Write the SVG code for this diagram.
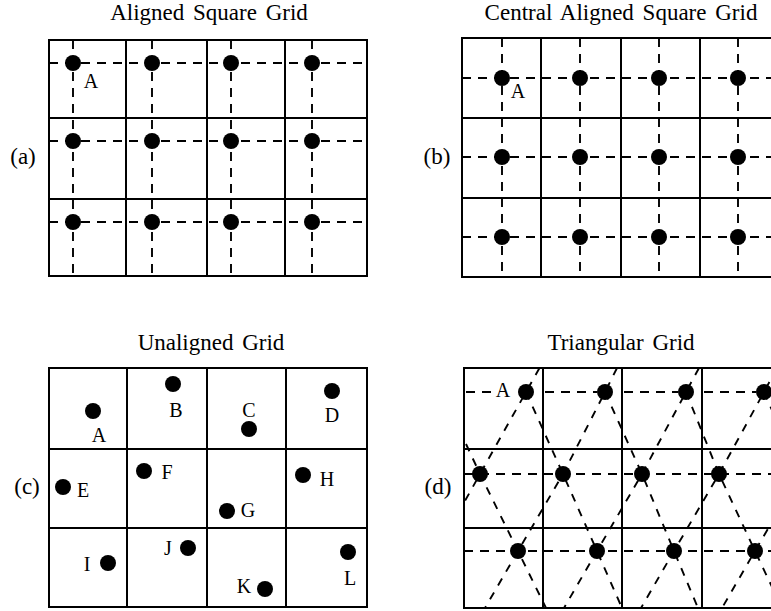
<svg xmlns="http://www.w3.org/2000/svg" width="771" height="611" viewBox="0 0 771 611">
<style>
.bg{fill:#fff}
.cell{fill:none;stroke:#000;stroke-width:2}
.dash{fill:none;stroke:#000;stroke-width:1.9;stroke-dasharray:9 7}
.diag{fill:none;stroke:#000;stroke-width:1.9;stroke-dasharray:8 8}
.dot{fill:#000}
text{font-family:"Liberation Serif","Times New Roman",serif;fill:#000}
.title{font-size:23px;text-anchor:middle;word-spacing:3px}
.plabel{font-size:23px;text-anchor:middle}
.lbl{font-size:20px;text-anchor:middle}
</style>
<defs>
<clipPath id="clipD"><rect x="464" y="368" width="330" height="240"/></clipPath>
</defs>
<rect class="bg" x="0" y="0" width="771" height="611"/>

<!-- Panel (a) -->
<g id="panel-a">
  <text class="title" x="209" y="20">Aligned Square Grid</text>
  <text class="plabel" x="23" y="164">(a)</text>
  <g id="grid-a">
    <rect class="cell" x="49" y="40" width="318" height="236"/>
    <path class="cell" d="M126 40V276M207 40V276M285 40V276M49 118H367M49 199H367"/>
  </g>
  <g id="connectors-a">
    <path class="dash" d="M73 40V276M152 40V276M231 40V276M312 40V276M49 63H367M49 141H367M49 222H367"/>
  </g>
  <g id="nodes-a">
    <g id="a-A"><circle class="dot" cx="73" cy="63" r="8"/><text class="lbl" x="91" y="88">A</text></g>
    <g id="a-n2"><circle class="dot" cx="152" cy="63" r="8"/></g>
    <g id="a-n3"><circle class="dot" cx="231" cy="63" r="8"/></g>
    <g id="a-n4"><circle class="dot" cx="312" cy="63" r="8"/></g>
    <g id="a-n5"><circle class="dot" cx="73" cy="141" r="8"/></g>
    <g id="a-n6"><circle class="dot" cx="152" cy="141" r="8"/></g>
    <g id="a-n7"><circle class="dot" cx="231" cy="141" r="8"/></g>
    <g id="a-n8"><circle class="dot" cx="312" cy="141" r="8"/></g>
    <g id="a-n9"><circle class="dot" cx="73" cy="222" r="8"/></g>
    <g id="a-n10"><circle class="dot" cx="152" cy="222" r="8"/></g>
    <g id="a-n11"><circle class="dot" cx="231" cy="222" r="8"/></g>
    <g id="a-n12"><circle class="dot" cx="312" cy="222" r="8"/></g>
  </g>
</g>

<!-- Panel (b) -->
<g id="panel-b">
  <text class="title" x="621" y="20">Central Aligned Square Grid</text>
  <text class="plabel" x="437" y="164">(b)</text>
  <g id="grid-b">
    <rect class="cell" x="462" y="38" width="330" height="239"/>
    <path class="cell" d="M541 38V277M621 38V277M700 38V277M462 118H792M462 198H792"/>
  </g>
  <g id="connectors-b">
    <path class="dash" d="M502 38V277M580 38V277M659 38V277M738 38V277M462 78H792M462 157H792M462 237H792"/>
  </g>
  <g id="nodes-b">
    <g id="b-A"><circle class="dot" cx="502" cy="78" r="8"/><text class="lbl" x="518" y="98">A</text></g>
    <g id="b-n2"><circle class="dot" cx="580" cy="78" r="8"/></g>
    <g id="b-n3"><circle class="dot" cx="659" cy="78" r="8"/></g>
    <g id="b-n4"><circle class="dot" cx="738" cy="78" r="8"/></g>
    <g id="b-n5"><circle class="dot" cx="502" cy="157" r="8"/></g>
    <g id="b-n6"><circle class="dot" cx="580" cy="157" r="8"/></g>
    <g id="b-n7"><circle class="dot" cx="659" cy="157" r="8"/></g>
    <g id="b-n8"><circle class="dot" cx="738" cy="157" r="8"/></g>
    <g id="b-n9"><circle class="dot" cx="502" cy="237" r="8"/></g>
    <g id="b-n10"><circle class="dot" cx="580" cy="237" r="8"/></g>
    <g id="b-n11"><circle class="dot" cx="659" cy="237" r="8"/></g>
    <g id="b-n12"><circle class="dot" cx="738" cy="237" r="8"/></g>
  </g>
</g>

<!-- Panel (c) -->
<g id="panel-c">
  <text class="title" x="211" y="350">Unaligned Grid</text>
  <text class="plabel" x="27" y="494">(c)</text>
  <g id="grid-c">
    <rect class="cell" x="49" y="368" width="318" height="239"/>
    <path class="cell" d="M127 368V607M207 368V607M286 368V607M49 449H367M49 528H367"/>
  </g>
  <g id="nodes-c">
    <g id="c-A"><circle class="dot" cx="93" cy="411" r="8"/><text class="lbl" x="99" y="442">A</text></g>
    <g id="c-B"><circle class="dot" cx="173" cy="384" r="8"/><text class="lbl" x="176" y="417">B</text></g>
    <g id="c-C"><circle class="dot" cx="249" cy="429" r="8"/><text class="lbl" x="249" y="417">C</text></g>
    <g id="c-D"><circle class="dot" cx="332" cy="391" r="8"/><text class="lbl" x="332" y="422">D</text></g>
    <g id="c-E"><circle class="dot" cx="63" cy="487" r="8"/><text class="lbl" x="83" y="497">E</text></g>
    <g id="c-F"><circle class="dot" cx="144" cy="471" r="8"/><text class="lbl" x="167" y="479">F</text></g>
    <g id="c-G"><circle class="dot" cx="227" cy="511" r="8"/><text class="lbl" x="248" y="517">G</text></g>
    <g id="c-H"><circle class="dot" cx="303" cy="475" r="8"/><text class="lbl" x="327" y="486">H</text></g>
    <g id="c-I"><circle class="dot" cx="108" cy="563" r="8"/><text class="lbl" x="87" y="571">I</text></g>
    <g id="c-J"><circle class="dot" cx="188" cy="548" r="8"/><text class="lbl" x="168" y="555">J</text></g>
    <g id="c-K"><circle class="dot" cx="265" cy="589" r="8"/><text class="lbl" x="244" y="593">K</text></g>
    <g id="c-L"><circle class="dot" cx="348" cy="552" r="8"/><text class="lbl" x="350" y="585">L</text></g>
  </g>
</g>

<!-- Panel (d) -->
<g id="panel-d">
  <text class="title" x="621" y="350">Triangular Grid</text>
  <text class="plabel" x="438" y="494">(d)</text>
  <g id="grid-d">
    <rect class="cell" x="464" y="368" width="330" height="240"/>
    <path class="cell" d="M543 368V608M622 368V608M702 368V608M464 449H794M464 528H794"/>
  </g>
  <g id="connectors-d" clip-path="url(#clipD)">
    <path class="dash" d="M466 392H495M545 392H597M624 392H678M704 392H756"/>
    <path class="dash" d="M464 474H794M464 551H794"/>
    <path class="diag" d="M539.5 368L526 392L480 474L437 551M617 368L605 392L563 474L518 551L485 608M699 368L686 392L642 474L597 551L564 608M777 368L764 392L719 474L674 551L641 608M800 474L755 551L722 608"/>
    <path class="diag" d="M466 444L480 474L518 551L546 608M526 392L563 474L597 551L622 608M605 392L642 474L674 551L698 608M686 392L719 474L755 551L782 608M764 392L800 474"/>
  </g>
  <g id="nodes-d">
    <g id="d-A"><circle class="dot" cx="526" cy="392" r="8"/><text class="lbl" x="503" y="397">A</text></g>
    <g id="d-n2"><circle class="dot" cx="605" cy="392" r="8"/></g>
    <g id="d-n3"><circle class="dot" cx="686" cy="392" r="8"/></g>
    <g id="d-n4"><circle class="dot" cx="764" cy="392" r="8"/></g>
    <g id="d-n5"><circle class="dot" cx="480" cy="474" r="8"/></g>
    <g id="d-n6"><circle class="dot" cx="563" cy="474" r="8"/></g>
    <g id="d-n7"><circle class="dot" cx="642" cy="474" r="8"/></g>
    <g id="d-n8"><circle class="dot" cx="719" cy="474" r="8"/></g>
    <g id="d-n9"><circle class="dot" cx="518" cy="551" r="8"/></g>
    <g id="d-n10"><circle class="dot" cx="597" cy="551" r="8"/></g>
    <g id="d-n11"><circle class="dot" cx="674" cy="551" r="8"/></g>
    <g id="d-n12"><circle class="dot" cx="755" cy="551" r="8"/></g>
  </g>
</g>
</svg>
